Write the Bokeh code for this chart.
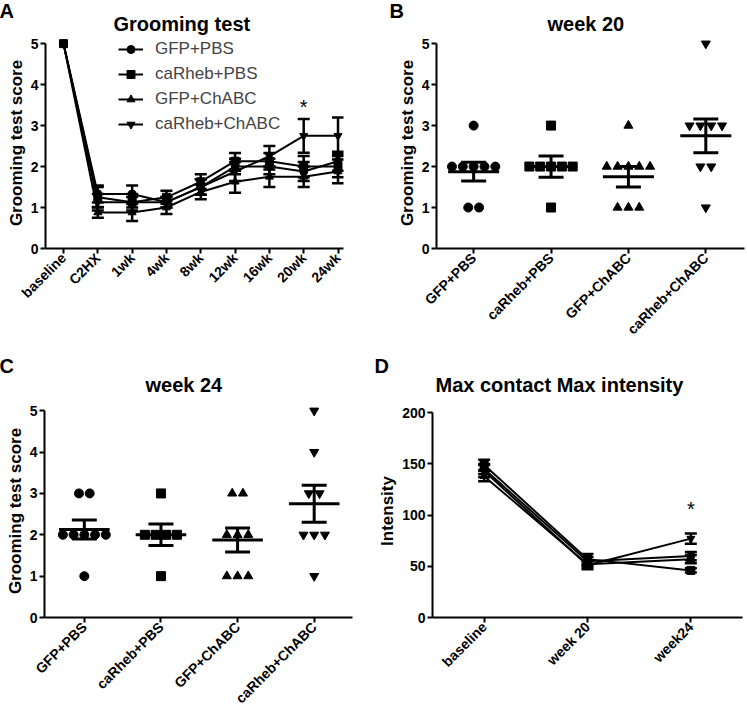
import numpy as np
from bokeh.plotting import figure
from bokeh.layouts import column, row
from bokeh.models import (Range1d, FixedTicker, Whisker, TeeHead, ColumnDataSource,
                          Title, Legend, LegendItem)
from bokeh.embed import file_html
from bokeh.resources import INLINE
from bokeh.core.properties import value

FONT = "Liberation Sans"

# ---------------- data ----------------
groups = ["GFP+PBS", "caRheb+PBS", "GFP+ChABC", "caRheb+ChABC"]
markers = ["circle", "square", "triangle", "inverted_triangle"]

# Panel A: grooming test over time (mean, SEM)
timepoints = ["baseline", "C2HX", "1wk", "4wk", "8wk", "12wk", "16wk", "20wk", "24wk"]
a_gfp_pbs = [5, 1.33, 1.33, 1.13, 1.5, 2.0, 2.0, 1.88, 2.13]
a_carheb_pbs = [5, 1.25, 1.13, 1.25, 1.63, 2.13, 2.13, 2.0, 2.0]
a_gfp_chabc = [5, 0.88, 0.88, 1.0, 1.38, 1.63, 1.75, 1.75, 1.88]
a_carheb_chabc = [5, 1.13, 1.13, 1.13, 1.5, 1.88, 2.25, 2.75, 2.75]
a_gfp_pbs_sem = [0, 0.21, 0.21, 0.13, 0.19, 0.19, 0.19, 0.23, 0.23]
a_carheb_pbs_sem = [0, 0.25, 0.13, 0.16, 0.18, 0.2, 0.2, 0.26, 0.26]
a_gfp_chabc_sem = [0, 0.13, 0.21, 0.16, 0.18, 0.27, 0.25, 0.25, 0.29]
a_carheb_chabc_sem = [0, 0.2, 0.2, 0.13, 0.19, 0.23, 0.25, 0.41, 0.45]
a_sig = "20wk"

# Panel B: week 20 individual scores
w20_gfp_pbs = [3, 2, 2, 2, 2, 2, 1, 1]
w20_carheb_pbs = [3, 2, 2, 2, 2, 2, 1]
w20_gfp_chabc = [3, 2, 2, 2, 2, 2, 1, 1, 1]
w20_carheb_chabc = [5, 3, 3, 3, 3, 2, 2, 1]
w20_mean = [1.875, 2.0, 1.75, 2.75]
w20_sem = [0.23, 0.26, 0.25, 0.41]

# Panel C: week 24 individual scores
w24_gfp_pbs = [3, 3, 2, 2, 2, 2, 2, 1]
w24_carheb_pbs = [3, 2, 2, 2, 2, 1]
w24_gfp_chabc = [3, 3, 2, 2, 2, 1, 1, 1]
w24_carheb_chabc = [5, 4, 3, 3, 2, 2, 2, 1]
w24_mean = [2.125, 2.0, 1.875, 2.75]
w24_sem = [0.23, 0.26, 0.29, 0.45]

# Panel D: max contact max intensity (mean, SEM)
d_times = ["baseline", "week 20", "week24"]
d_gfp_pbs = [145, 55, 60]
d_carheb_pbs = [149, 57, 46]
d_gfp_chabc = [138, 52, 57]
d_carheb_chabc = [143, 51, 77]
d_gfp_pbs_sem = [5, 4, 4]
d_carheb_pbs_sem = [5, 5, 2]
d_gfp_chabc_sem = [5, 3, 4]
d_carheb_chabc_sem = [6, 4, 5]
d_sig = "week24"


# ---------------- helpers ----------------
def style(p):
    p.outline_line_color = None
    p.grid.visible = False
    p.background_fill_color = "white"
    p.border_fill_color = "white"
    for ax in p.axis:
        ax.axis_line_width = 2
        ax.axis_line_color = "black"
        ax.major_tick_line_width = 2
        ax.major_tick_line_color = "black"
        ax.major_tick_out = 5
        ax.major_tick_in = 0
        ax.minor_tick_line_color = None
        ax.major_label_text_font = FONT
        ax.major_label_text_font_style = "bold"
        ax.major_label_text_font_size = "14px"
        ax.major_label_text_color = "black"
        ax.major_label_standoff = 2
        ax.axis_label_text_font = FONT
        ax.axis_label_text_font_style = "bold"
        ax.axis_label_text_font_size = "17px"
        ax.axis_label_text_color = "black"
        ax.axis_label_standoff = 2


def titles(p, letter, text, letter_offset, title_offset, title_standoff, letter_standoff):
    # panel letter: outer title row; chart title: row next to the plot area
    p.title = Title(text=letter, align="left", offset=letter_offset,
                    text_font=FONT, text_font_size="20px", text_font_style="bold",
                    text_color="black", vertical_align="top", standoff=letter_standoff)
    p.add_layout(Title(text=text, align="left", offset=title_offset,
                       text_font=FONT, text_font_size="20px", text_font_style="bold",
                       text_color="black", vertical_align="top",
                       standoff=title_standoff), "above")


def swarm(vals, spacing):
    counts = {}
    for v in vals:
        counts[v] = counts.get(v, 0) + 1
    seen = {}
    xs = []
    for v in vals:
        k = seen.get(v, 0)
        seen[v] = k + 1
        xs.append((k - (counts[v] - 1) / 2) * spacing)
    return xs


def line_panel(p, cats, series, sems, msize, cap, lw):
    xs = list(range(len(cats)))
    items = []
    for name, mk, ys, ss in zip(groups, markers, series, sems):
        lr = p.line(xs, ys, line_color="black", line_width=lw)
        up = [y + s for y, s in zip(ys, ss) if s > 0]
        lo = [y - s for y, s in zip(ys, ss) if s > 0]
        bx = [x for x, s in zip(xs, ss) if s > 0]
        src = ColumnDataSource(dict(base=bx, upper=up, lower=lo))
        p.add_layout(Whisker(base="base", upper="upper", lower="lower", source=src,
                             line_width=2.5, line_color="black",
                             upper_head=TeeHead(size=cap, line_width=2.5, line_color="black"),
                             lower_head=TeeHead(size=cap, line_width=2.5, line_color="black")))
        sr = p.scatter(xs, ys, marker=mk, size=msize, fill_color="black", line_color="black")
        items.append(LegendItem(label=name, renderers=[lr, sr]))
    return items


def scatter_panel(p, pts, means, sems, spacing):
    for i, (vals, mk) in enumerate(zip(pts, markers)):
        off = swarm(vals, spacing)
        p.scatter([i + o for o in off], vals, marker=mk, size=9,
                  fill_color="black", line_color="black")
    idx = list(range(len(means)))
    p.segment(x0=[i - 0.33 for i in idx], x1=[i + 0.33 for i in idx], y0=means, y1=means,
              line_color="black", line_width=3)
    src = ColumnDataSource(dict(base=idx, upper=[m + s for m, s in zip(means, sems)],
                                lower=[m - s for m, s in zip(means, sems)]))
    p.add_layout(Whisker(base="base", upper="upper", lower="lower", source=src,
                         line_width=3, line_color="black",
                         upper_head=TeeHead(size=25, line_width=3, line_color="black"),
                         lower_head=TeeHead(size=25, line_width=3, line_color="black")))


def cat_axis(p, cats):
    p.xaxis.ticker = FixedTicker(ticks=list(range(len(cats))))
    p.xaxis.major_label_overrides = {i: c for i, c in enumerate(cats)}
    p.xaxis.major_label_orientation = np.pi / 4


def score_axis(p):
    p.yaxis.ticker = FixedTicker(ticks=[0, 1, 2, 3, 4, 5])
    p.yaxis.bounds = (0, 5)
    p.yaxis.axis_label = "Grooming test score"


# ---------------- Panel A ----------------
pA = figure(width=375, height=346, output_backend="svg", toolbar_location=None,
            x_range=Range1d(-0.525, 8.16), y_range=Range1d(0, 5.15),
            min_border_left=45, min_border_right=32, min_border_top=37, min_border_bottom=98)
items = line_panel(pA, timepoints,
                   [a_gfp_pbs, a_carheb_pbs, a_gfp_chabc, a_carheb_chabc],
                   [a_gfp_pbs_sem, a_carheb_pbs_sem, a_gfp_chabc_sem, a_carheb_chabc_sem],
                   8, 12, 2)
style(pA)
cat_axis(pA, timepoints)
score_axis(pA)
si = timepoints.index(a_sig)
pA.text(x=[si], y=[a_carheb_chabc[si] + a_carheb_chabc_sem[si] + 0.3], text=["*"],
        text_font=value(FONT), text_font_size="20px", text_align="center",
        text_baseline="middle", text_color="black")
leg = Legend(items=items, location=(71, 112), glyph_width=25, glyph_height=20,
             label_height=20, spacing=5, padding=2, margin=0, label_standoff=12,
             label_text_font=FONT, label_text_font_size="17px",
             background_fill_alpha=0, border_line_alpha=0)
pA.add_layout(leg)
titles(pA, "A", "Grooming test", -46, 68, 1, -25)

# ---------------- Panel B ----------------
pB = figure(width=370, height=346, output_backend="svg", toolbar_location=None,
            x_range=Range1d(-0.48, 3.5), y_range=Range1d(0, 5.15),
            min_border_left=61, min_border_right=1, min_border_top=37, min_border_bottom=98)
scatter_panel(pB, [w20_gfp_pbs, w20_carheb_pbs, w20_gfp_chabc, w20_carheb_chabc],
              w20_mean, w20_sem, 0.14)
style(pB)
cat_axis(pB, groups)
score_axis(pB)
titles(pB, "B", "week 20", -47, 111, 1, -25)

# ---------------- Panel C ----------------
pC = figure(width=375, height=369, output_backend="svg", toolbar_location=None,
            x_range=Range1d(-0.52, 3.5), y_range=Range1d(0, 5.15),
            min_border_left=44, min_border_right=23, min_border_top=58, min_border_bottom=98)
scatter_panel(pC, [w24_gfp_pbs, w24_carheb_pbs, w24_gfp_chabc, w24_carheb_chabc],
              w24_mean, w24_sem, 0.14)
style(pC)
cat_axis(pC, groups)
score_axis(pC)
titles(pC, "C", "week 24", -45, 101, 13, -25)

# ---------------- Panel D ----------------
pD = figure(width=370, height=369, output_backend="svg", toolbar_location=None,
            x_range=Range1d(-0.5, 2.5), y_range=Range1d(0, 208),
            min_border_left=57, min_border_right=3, min_border_top=58, min_border_bottom=98)
line_panel(pD, d_times,
           [d_gfp_pbs, d_carheb_pbs, d_gfp_chabc, d_carheb_chabc],
           [d_gfp_pbs_sem, d_carheb_pbs_sem, d_gfp_chabc_sem, d_carheb_chabc_sem],
           8, 12, 2)
style(pD)
cat_axis(pD, d_times)
pD.yaxis.ticker = FixedTicker(ticks=[0, 50, 100, 150, 200])
pD.yaxis.bounds = (0, 200)
pD.yaxis.axis_label = "Intensity"
di = d_times.index(d_sig)
pD.text(x=[di], y=[d_carheb_chabc[di] + d_carheb_chabc_sem[di] + 24], text=["*"],
        text_font=value(FONT), text_font_size="20px", text_align="center",
        text_baseline="middle", text_color="black")
titles(pD, "D", "Max contact Max intensity", -58, 3, 13, -25)

layout = column(row(pA, pB), row(pC, pD))
open("out.html", "w").write(file_html(layout, INLINE))
